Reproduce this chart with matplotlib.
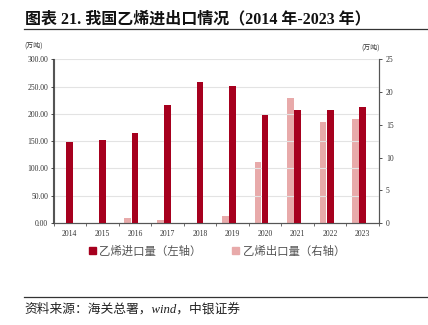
import numpy as np
import matplotlib.pyplot as plt
from matplotlib.lines import Line2D
from matplotlib.patches import Patch

plt.rcParams['font.family'] = ['Liberation Serif', 'Noto Sans CJK SC', 'DejaVu Sans']

years = ['2014', '2015', '2016', '2017', '2018', '2019', '2020', '2021', '2022', '2023']
imports = [149.0, 151.5, 165.0, 216.0, 258.0, 251.0, 198.0, 206.7, 206.7, 212.8]   # 万吨, left axis
exports = [0.0, 0.0, 0.72, 0.5, 0.0, 1.12, 9.37, 19.1, 15.4, 15.9]              # 万吨, right axis

dark = '#A6001E'
light = '#E8AAAA'

fig = plt.figure(figsize=(4.28, 3.25), dpi=100)
ax = fig.add_axes([0.125, 0.314, 0.7605, 0.503])
ax2 = ax.twinx()

x = np.arange(len(years))
w = 0.205
ax.bar(x, imports, width=w, color=dark, zorder=3)
ax2.bar(x - 0.22, exports, width=w, color=light, zorder=2)

ax.set_zorder(ax2.get_zorder() + 1)
ax.patch.set_visible(False)

ax.set_xlim(-0.5, len(years) - 0.5)
ax.set_ylim(0, 300)
ax2.set_ylim(0, 25)
ax.set_yticks(np.arange(0, 301, 50))
ax.set_yticklabels([f'{v:.2f}' for v in np.arange(0, 301, 50)])
ax2.set_yticks(np.arange(0, 26, 5))
ax.set_xticks(x)
ax.set_xticklabels(years)
ax.set_xticks(np.arange(-0.5, len(years)), minor=True)
ax.grid(axis='y', color='#E3E3E3', linewidth=0.8, zorder=0)

for a in (ax, ax2):
    a.spines['top'].set_visible(False)
    for s in ('left', 'right', 'bottom'):
        a.spines[s].set_color('#555555')
        a.spines[s].set_linewidth(0.8)
ax.tick_params(axis='y', labelsize=5.5, length=2, width=0.6, colors='#333333', pad=2)
ax2.tick_params(axis='y', labelsize=5.5, length=2, width=0.6, colors='#333333', pad=3)
ax.tick_params(axis='x', which='major', labelsize=5.5, length=0, pad=5, colors='#333333')
ax.tick_params(axis='x', which='minor', length=2, width=0.6, color='#555555')

# units
fig.text(0.058, 0.855, '(万吨)', fontsize=5, color='#333333', family=['Noto Sans CJK SC'])
fig.text(0.845, 0.848, '(万吨)', fontsize=5, color='#333333', family=['Noto Sans CJK SC'])

# legend
handles = [Patch(color=dark), Patch(color=light)]
fig.legend(handles, ['乙烯进口量（左轴）', '乙烯出口量（右轴）'], loc='center',
           bbox_to_anchor=(0.507, 0.228), ncol=2, frameon=False,
           handlelength=0.6, handleheight=0.6, handletextpad=0.3, columnspacing=2.7,
           prop={'family': ['Noto Sans CJK SC'], 'size': 8.2}, labelcolor='#555555')

# title and rules
fig.text(0.058, 0.928, '图表 21. 我国乙烯进出口情况（2014 年-2023 年）', fontsize=11.5,
         fontweight='bold', color='#111111', va='baseline',
         family=['Liberation Serif', 'Noto Sans CJK SC'])
fig.add_artist(Line2D([0.056, 1.0], [0.91, 0.91], color='#333333', linewidth=0.9))
fig.add_artist(Line2D([0.056, 1.0], [0.086, 0.086], color='#333333', linewidth=0.9))
fig.text(0.058, 0.038, '资料来源：海关总署，wind，中银证券', fontsize=9.2, style='italic',
         color='#222222', family=['Liberation Serif', 'Noto Sans CJK SC'])

fig.savefig('out.png', dpi=100)
